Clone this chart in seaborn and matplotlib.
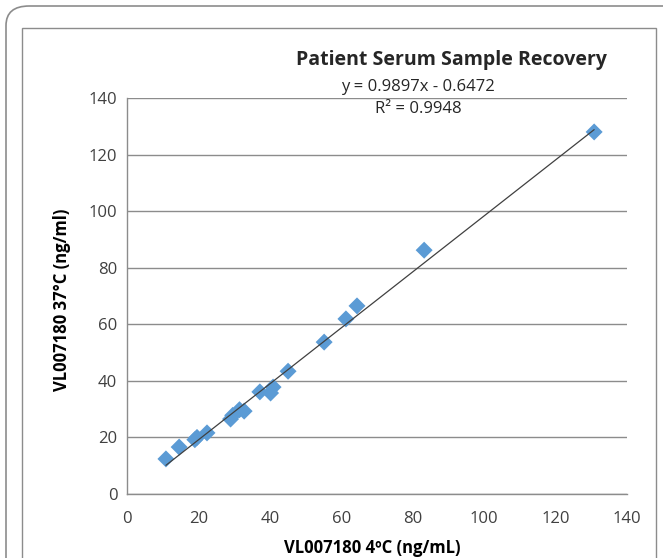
import matplotlib.pyplot as plt
import matplotlib.patches as patches
import seaborn as sns
import pandas as pd
import numpy as np

# values
temp_4c = [10.9, 14.6, 19.0, 19.6, 22.4, 29.0, 29.6, 31.5, 32.8, 37.2, 40.2, 40.9,
           45.1, 55.2, 61.3, 64.4, 83.2, 130.8]
temp_37c = [12.4, 16.6, 19.2, 20.0, 21.6, 26.5, 27.8, 29.8, 29.3, 36.1, 35.7, 37.8,
            43.4, 53.7, 61.9, 66.5, 86.2, 128.0]
slope, intercept = 0.9897, -0.6472
r_squared = 0.9948
ticks = [0, 20, 40, 60, 80, 100, 120, 140]

df = pd.DataFrame({'x': temp_4c, 'y': temp_37c})

sns.set_style('white')
plt.rcParams['font.family'] = ['Open Sans', 'DejaVu Sans']

fig = plt.figure(figsize=(6.63, 5.58), dpi=100)
ax = fig.add_axes([127 / 663, 1 - 494 / 558, 500 / 663, 396 / 558])

# frames around the chart
fig.patches.append(patches.FancyBboxPatch((6 / 663, -0.1), 1.1, 1 - 6 / 558 + 0.1,
                                          boxstyle='round,pad=0,rounding_size=0.035',
                                          transform=fig.transFigure, fill=False,
                                          edgecolor='#8c8c8c', linewidth=1.2))
fig.patches.append(patches.Rectangle((22 / 663, -0.1), (656 - 22) / 663, 1 - 28 / 558 + 0.1,
                                     transform=fig.transFigure, fill=False,
                                     edgecolor='#8c8c8c', linewidth=1))

sns.scatterplot(data=df, x='x', y='y', marker='D', s=75, color='#5B9BD5',
                edgecolor='none', ax=ax, zorder=3)

xs = np.array([min(temp_4c), max(temp_4c)])
ax.plot(xs, slope * xs + intercept, color='#404040', linewidth=0.9, zorder=4)

ax.set_xlim(0, 140)
ax.set_ylim(0, 140)
ax.set_xticks(ticks)
ax.set_yticks(ticks)
ax.tick_params(axis='both', length=0, labelsize=12, colors='#404040')
ax.tick_params(axis='x', pad=12)
ax.tick_params(axis='y', pad=7)
ax.yaxis.grid(True, color='#8c8c8c', linewidth=1)
ax.xaxis.grid(False)
for side in ['top', 'right']:
    ax.spines[side].set_visible(False)
for side in ['left', 'bottom']:
    ax.spines[side].set_color('#8c8c8c')
    ax.spines[side].set_linewidth(1)

ax.set_xlabel('VL007180 4ºC (ng/mL)', fontsize=12, fontweight='bold', color='black')
ax.set_ylabel('VL007180 37°C (ng/ml)', fontsize=12, fontweight='bold', color='black')
ax.xaxis.set_label_coords(0.49, -0.113)
ax.yaxis.set_label_coords(-0.112, 0.49)

fig.text(451 / 663, 1 - 60 / 558, 'Patient Serum Sample Recovery', ha='center', va='center',
         fontsize=14, fontweight='bold')
fig.text(418 / 663, 1 - 87 / 558, f'y = {slope}x - {abs(intercept)}', ha='center', va='center',
         fontsize=12)
fig.text(418 / 663, 1 - 109 / 558, f'R² = {r_squared}', ha='center', va='center',
         fontsize=12)

plt.savefig('out.png', dpi=100)
